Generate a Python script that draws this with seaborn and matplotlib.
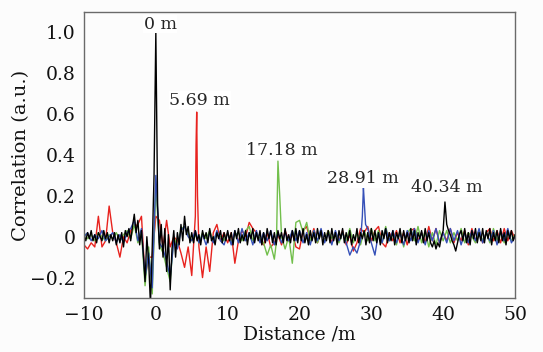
import numpy as np
import pandas as pd
import matplotlib
matplotlib.use("Agg")
import matplotlib.pyplot as plt
import seaborn as sns

# DATA (correlation vs distance)
# black trace, 0.25 m step from -10 to 50
x_black = np.arange(-10, 50.001, 0.25)
y_black = [
    0.01, -0.02, 0.02, -0.01, 0.03, -0.02, 0.01, -0.03, 0.02, 0.00, -0.02, 0.03, -0.01, 0.02, -0.03, 0.01, -0.02, 0.02, -0.04, 0.01,
    -0.03, 0.02, -0.05, 0.03, 0.00, 0.04, -0.02, 0.05, 0.11, 0.02, 0.08, -0.04, 0.03, -0.08, -0.22, 0.00, -0.12, -0.33, -0.05, 0.30,
    1.00, 0.15, -0.06, 0.06, -0.10, 0.04, -0.17, 0.01, -0.26, -0.06, 0.03, -0.10, 0.02, -0.04, 0.06, -0.02, 0.10, 0.01, 0.05, -0.03,
    0.02, -0.03, 0.03, -0.02, 0.01, -0.04, 0.03, -0.01, 0.02, -0.03, 0.04, -0.02, 0.00, -0.04, 0.02, -0.01, 0.03, -0.03, 0.02, -0.02,
    0.03, -0.02, 0.02, -0.04, 0.03, -0.01, 0.04, -0.03, 0.01, -0.02, 0.03, -0.04, 0.02, -0.01, 0.04, -0.03, 0.02, -0.02, 0.03, -0.04,
    0.02, -0.03, 0.04, -0.01, 0.03, -0.03, 0.02, -0.04, 0.03, -0.01, 0.02, -0.03, 0.04, -0.02, 0.01, -0.03, 0.03, -0.02, 0.04, -0.03,
    0.03, -0.02, 0.04, -0.03, 0.01, -0.04, 0.03, -0.02, 0.02, -0.03, 0.04, -0.01, 0.03, -0.04, 0.02, -0.02, 0.03, -0.03, 0.04, -0.02,
    0.02, -0.04, 0.03, -0.01, 0.04, -0.03, 0.02, -0.02, 0.03, -0.04, 0.01, -0.02, 0.04, -0.03, 0.02, -0.01, 0.03, -0.04, 0.02, -0.03,
    0.04, -0.02, 0.03, -0.03, 0.02, -0.04, 0.03, -0.01, 0.04, -0.03, 0.02, -0.02, 0.03, -0.04, 0.02, -0.01, 0.04, -0.03, 0.03, -0.02,
    0.02, -0.03, 0.04, -0.02, 0.03, -0.04, 0.02, -0.01, 0.03, -0.03, 0.04, -0.02, 0.02, -0.03, -0.05, -0.02, -0.06, -0.03, -0.05, 0.00,
    0.03, 0.17, 0.06, 0.03, 0.01, -0.02, -0.04, -0.07, -0.03, 0.01, 0.03, -0.02, 0.04, -0.03, 0.02, -0.04, 0.03, -0.01, 0.04, -0.03,
    0.02, -0.02, 0.04, -0.03, 0.03, -0.01, 0.04, -0.04, 0.02, -0.02, 0.03, -0.03, 0.04, -0.02, 0.02, -0.04, 0.03, -0.01, 0.03, -0.02,
    0.01,
]

# coloured traces, 0.5 m step from -10 to 50, plus a few extra points on the peaks
x_coarse = np.arange(-10, 50.001, 0.5)
y_red = [
    -0.04, -0.06, -0.03, -0.05, 0.10, -0.05, -0.02, 0.15, 0.02, -0.03,
    -0.10, 0.00, -0.03, 0.03, 0.05, 0.06, 0.10, -0.20, -0.10, -0.10,
    0.10, 0.08, -0.05, 0.08, -0.05, 0.00, -0.02, -0.08, -0.15, -0.05,
    -0.19, 0.10, -0.05, -0.20, -0.05, -0.17, 0.02, 0.06, -0.02, 0.02,
    -0.03, 0.02, -0.13, -0.02, 0.03, 0.00, 0.07, 0.04, 0.02, -0.02,
    -0.04, 0.02, -0.05, -0.03, 0.01, -0.04, 0.03, -0.02, 0.02, -0.05,
    -0.06, 0.03, 0.05, -0.02, 0.04, -0.03, 0.02, -0.02, 0.03, -0.03,
    0.02, -0.02, 0.03, -0.04, 0.01, -0.07, -0.03, 0.04, 0.02, 0.05,
    -0.02, 0.03, 0.05, -0.03, -0.05, 0.02, -0.02, 0.03, -0.03, 0.02,
    -0.04, 0.03, 0.04, -0.02, 0.02, -0.03, 0.05, -0.02, 0.04, -0.03,
    0.02, -0.02, 0.04, -0.03, 0.02, -0.02, 0.03, -0.04, 0.04, -0.02,
    0.03, -0.03, 0.02, 0.04, -0.02, 0.03, -0.03, 0.04, -0.02, 0.03,
    -0.01,
]
red_peak_x = [5.6, 5.69, 5.8]
red_peak_y = [0.45, 0.61, 0.2]

y_green = [
    0.02, -0.01, 0.01, -0.02, 0.02, 0.00, -0.02, 0.01, -0.01, 0.02,
    -0.02, 0.01, 0.03, -0.01, 0.06, -0.03, 0.02, -0.24, -0.05, -0.28,
    0.25, -0.04, -0.08, -0.15, -0.22, 0.00, -0.05, 0.04, 0.05, 0.02,
    -0.02, 0.01, -0.03, 0.02, -0.01, 0.03, -0.02, 0.02, 0.00, -0.02,
    0.02, -0.03, 0.01, 0.02, -0.02, 0.03, 0.05, -0.02, 0.02, -0.01,
    -0.03, -0.09, -0.04, -0.11, 0.37, 0.00, -0.06, 0.00, -0.13, 0.07,
    0.08, 0.02, 0.07, -0.02, 0.03, -0.03, 0.02, -0.02, 0.03, -0.01,
    0.02, -0.03, 0.02, -0.02, 0.04, -0.03, 0.02, -0.04, 0.03, -0.02,
    0.04, -0.02, 0.03, -0.03, 0.05, -0.02, 0.02, -0.04, 0.03, -0.05,
    0.02, 0.04, -0.02, 0.05, -0.03, 0.03, -0.05, 0.02, -0.04, 0.03,
    -0.02, 0.03, -0.03, 0.02, -0.02, 0.04, -0.03, 0.02, 0.00, -0.03,
    0.03, -0.02, 0.02, -0.03, 0.04, -0.02, 0.02, -0.03, 0.03, -0.02,
    0.01,
]
green_peak_x = [16.8, 17.25]
green_peak_y = [-0.02, 0.2]

y_blue = [
    0.00, 0.02, -0.02, 0.01, -0.01, 0.03, -0.02, 0.00, 0.02, -0.03,
    0.01, -0.03, 0.02, 0.04, 0.08, -0.02, 0.04, -0.20, -0.08, -0.25,
    0.30, -0.03, -0.06, -0.12, -0.20, -0.02, -0.06, 0.03, 0.05, 0.00,
    -0.02, 0.03, -0.03, 0.01, -0.04, 0.02, -0.03, 0.03, -0.02, -0.04,
    0.02, -0.04, 0.03, -0.03, 0.04, -0.02, 0.02, -0.04, 0.03, -0.03,
    0.02, -0.02, 0.03, -0.04, 0.02, -0.03, 0.02, -0.02, 0.03, -0.02,
    0.03, -0.03, 0.02, -0.04, 0.03, -0.02, 0.04, -0.03, 0.02, -0.04,
    0.03, -0.02, 0.02, -0.03, -0.09, -0.05, -0.08, -0.02, 0.18, 0.04,
    -0.03, -0.09, 0.02, -0.03, 0.04, -0.02, 0.03, -0.03, 0.02, -0.04,
    0.03, -0.02, 0.04, -0.03, 0.02, -0.04, 0.03, -0.02, 0.04, -0.03,
    0.02, -0.03, 0.04, -0.02, 0.03, -0.04, 0.02, -0.03, 0.03, -0.02,
    0.04, -0.03, 0.02, -0.02, 0.03, -0.04, 0.03, -0.02, 0.04, -0.03,
    0.00,
]
blue_peak_x = [28.75, 28.9, 29.2]
blue_peak_y = [0.1, 0.24, 0.06]

peak_labels = ["0 m", "5.69 m", "17.18 m", "28.91 m", "40.34 m"]
label_x = [0.6, 6.1, 17.6, 28.8, 40.5]
label_y = [1.04, 0.668, 0.424, 0.283, 0.239]


def trace(x, y, px=None, py=None):
    df = pd.DataFrame({"x": x, "y": y})
    if px is not None:
        df = pd.concat([df, pd.DataFrame({"x": px, "y": py})])
    return df.sort_values("x")


sns.set_style("white")
plt.rcParams["font.family"] = ["DejaVu Serif"]

fig = plt.figure(figsize=(5.43, 3.52), dpi=100, facecolor="#fcfcfc")
ax = fig.add_axes([0.1547, 0.1534, 0.7937, 0.8126])
ax.set_facecolor("#fcfcfc")

traces = [
    (trace(x_coarse, y_red, red_peak_x, red_peak_y), "#e8221e"),
    (trace(x_coarse, y_green, green_peak_x, green_peak_y), "#72bf4c"),
    (trace(x_coarse, y_blue, blue_peak_x, blue_peak_y), "#3550b8"),
    (trace(x_black, y_black), "black"),
]
for df, col in traces:
    sns.lineplot(data=df, x="x", y="y", color=col, linewidth=1.0,
                 sort=False, estimator=None, ax=ax)

for txt, lx, ly in zip(peak_labels, label_x, label_y):
    ax.text(lx, ly, txt, ha="center", va="center", fontsize=12.5,
            bbox=dict(facecolor="white", edgecolor="none", pad=0.5))

ax.set_xlim(-10, 50)
ax.set_ylim(-0.3, 1.1)
ax.set_xticks([-10, 0, 10, 20, 30, 40, 50])
ax.set_yticks([-0.2, 0, 0.2, 0.4, 0.6, 0.8, 1.0])
ax.set_yticklabels(["\u22120.2", "0", "0.2", "0.4", "0.6", "0.8", "1.0"])
ax.tick_params(direction="in", length=4, width=0.8, color="#555555",
               labelsize=13.5, pad=6, top=False, right=False,
               labelcolor="#111111")
for s in ax.spines.values():
    s.set_color("#6a6a6a")
    s.set_linewidth(1.0)
ax.set_xlabel("Distance /m", fontsize=13.5, labelpad=1, color="#111111")
ax.set_ylabel("Correlation (a.u.)", fontsize=14, labelpad=0, color="#111111")

fig.savefig("out.png", dpi=100, facecolor=fig.get_facecolor())
